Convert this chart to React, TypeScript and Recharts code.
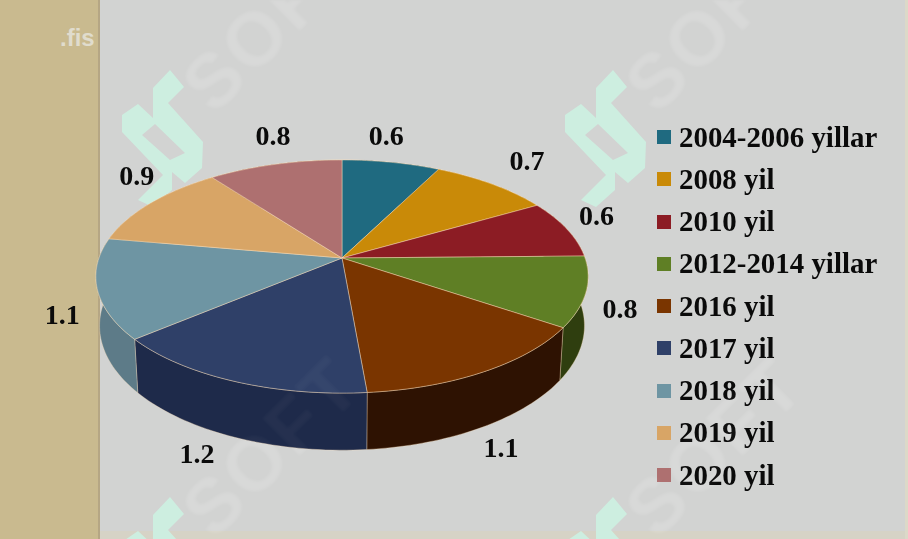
import React from 'react';
import { PieChart, Pie, Legend } from 'recharts';

const categories = ['2004-2006 yillar', '2008 yil', '2010 yil', '2012-2014 yillar', '2016 yil', '2017 yil', '2018 yil', '2019 yil', '2020 yil'];
const labelValues = ['0.6', '0.7', '0.6', '0.8', '1.1', '1.2', '1.1', '0.9', '0.8'];
// slice sizes in degrees as drawn in the picture (they do not follow the printed labels exactly)
const drawnShares = [27, 33, 29, 35, 51, 55, 50, 43, 37];
const topColors = ['#1f6a80', '#c98a08', '#8c1c24', '#5f7f25', '#7a3500', '#2f4068', '#6e95a3', '#d8a566', '#ae7070'];
const wallColors = ['#123f4d', '#7a5405', '#551116', '#2f3e0f', '#2e1202', '#1e2a4a', '#5d7b88', '#84643c', '#6a4444'];
const labelOffsets = [[-5, -27], [35, -24], [30, -13], [34, 17], [16, 76], [-36, 72], [-35, 26], [-14, -28], [-2, -29]];

const data = categories.map((name, i) => ({ name, share: drawnShares[i], fill: topColors[i] }));

const TILT = 113.6 / 243;
const PERSPECTIVE = 0.159;
const DEPTH = 48;
const STROKE = 'rgba(255,225,185,0.55)';

// circle point seen from above and in front, theta is clockwise from the top
const project = (cx: number, cy: number, r: number, theta: number) => {
  const u = Math.sin(theta);
  const v = -Math.cos(theta);
  const d = 1 - PERSPECTIVE * v;
  return { x: cx + (r * u) / d, y: cy + (r * TILT * v) / d, d };
};

const arcPoints = (props: any) => {
  const { cx, cy, outerRadius, startAngle, endAngle } = props;
  const pts = [];
  for (let i = 0; i <= 40; i++) {
    const angle = startAngle + ((endAngle - startAngle) * i) / 40;
    pts.push(project(cx, cy, outerRadius, ((90 - angle) * Math.PI) / 180));
  }
  return pts;
};

const TopSlice = (props: any) => {
  const pts = arcPoints(props);
  const d = `M${props.cx},${props.cy} ` + pts.map((p) => `L${p.x},${p.y}`).join(' ') + ' Z';
  return <path d={d} fill={props.fill} stroke={STROKE} strokeWidth={0.8} strokeLinejoin="round" />;
};

const WallSlice = (props: any) => {
  const pts = arcPoints(props);
  const lower = pts.map((p) => ({ x: props.cx + (p.x - props.cx) * 0.985, y: p.y + DEPTH / p.d }));
  const d = 'M' + pts.concat(lower.reverse()).map((p) => `${p.x},${p.y}`).join(' L') + ' Z';
  return <path d={d} fill={wallColors[props.index]} stroke={STROKE} strokeWidth={0.6} />;
};

const renderLabel = (props: any) => {
  const { cx, cy, outerRadius, midAngle, index } = props;
  const p = project(cx, cy, outerRadius, ((90 - midAngle) * Math.PI) / 180);
  return (
    <text x={p.x + labelOffsets[index][0]} y={p.y + labelOffsets[index][1]} textAnchor="middle" dominantBaseline="central"
      fontFamily="Liberation Serif" fontWeight="bold" fontSize={28} fill="#0a0a0a">
      {labelValues[index]}
    </text>
  );
};

const renderLegend = ({ payload }: any) => (
  <div>
    {(payload || []).filter((entry: any) => entry.type !== 'none').map((entry: any) => (
      <div key={entry.value} style={{ display: 'flex', alignItems: 'center', height: 42.25 }}>
        <span style={{ width: 14, height: 14, background: entry.color, marginRight: 8 }} />
        <span style={{ fontFamily: 'Liberation Serif', fontWeight: 'bold', fontSize: 28.9, color: '#0a0a0a', whiteSpace: 'nowrap' }}>{entry.value}</span>
      </div>
    ))}
  </div>
);

const Logo = ({ dx, dy }: { dx: number; dy: number }) => (
  <path
    transform={`translate(${dx},${dy})`}
    fillRule="evenodd"
    fill="#cdeee0"
    d="M170,70 L184,87 L168,103 L203,142 L202,168 L185,183 L172,172 L172,190 L153,207 L138,200 L163,175 L122,132 L122,115 L138,104 L153,118 L153,88 Z M155,124 L185,153 L170,160 L142,135 Z"
  />
);

const Watermark = ({ dx, dy, opacity }: { dx: number; dy: number; opacity: number }) => (
  <text x={214 + dx} y={116 + dy} transform={`rotate(-45 ${214 + dx} ${116 + dy})`} fontFamily="Liberation Sans" fontWeight="bold"
    fontSize={76} fill="#ffffff" fillOpacity={opacity} letterSpacing={3}>
    SOFT
  </text>
);

const Watermarks = ({ opacity }: { opacity: number }) => (
  <svg width={908} height={539} style={{ position: 'absolute', left: 0, top: 0, pointerEvents: 'none', filter: 'blur(1.5px)' }}>
    <Watermark dx={0} dy={0} opacity={opacity} />
    <Watermark dx={443} dy={0} opacity={opacity} />
    <Watermark dx={0} dy={425} opacity={opacity} />
    <Watermark dx={443} dy={425} opacity={opacity} />
  </svg>
);

export default function App() {
  return (
    <div style={{ position: 'relative', width: 908, height: 539, overflow: 'hidden', background: '#d2d3d2' }}>
      <style>{'body{margin:0}'}</style>
      <svg width={908} height={539} style={{ position: 'absolute', left: 0, top: 0 }}>
        <rect x={0} y={0} width={99} height={539} fill="#c9ba8f" />
        <rect x={98} y={0} width={2} height={539} fill="#b5a684" />
        <rect x={905} y={0} width={3} height={539} fill="#dcd9c8" />
        <rect x={100} y={531} width={805} height={8} fill="#d6d3c6" />
        <text x={60} y={46} fontFamily="Liberation Sans" fontWeight="bold" fontSize={24} fill="#e0dccd">.fis</text>
        <g style={{ filter: 'blur(0.6px)' }}>
          <Logo dx={0} dy={0} />
          <Logo dx={443} dy={0} />
          <Logo dx={0} dy={427} />
          <Logo dx={443} dy={427} />
        </g>
      </svg>
      <Watermarks opacity={0.11} />
      <div style={{ position: 'absolute', left: 0, top: 0 }}>
        <PieChart width={908} height={539} margin={{ top: 0, right: 0, bottom: 0, left: 0 }}>
          <Pie data={data} dataKey="share" nameKey="name" cx={342} cy={258} outerRadius={243} startAngle={90} endAngle={-270}
            isAnimationActive={false} legendType="none" shape={WallSlice} label={false} />
          <Pie data={data} dataKey="share" nameKey="name" cx={342} cy={258} outerRadius={243} startAngle={90} endAngle={-270}
            isAnimationActive={false} shape={TopSlice} label={renderLabel} labelLine={false} />
          <Legend layout="vertical" align="right" verticalAlign="top" content={renderLegend}
            wrapperStyle={{ left: 657, top: 116, width: 240 }} />
        </PieChart>
      </div>
      <Watermarks opacity={0.03} />
    </div>
  );
}
